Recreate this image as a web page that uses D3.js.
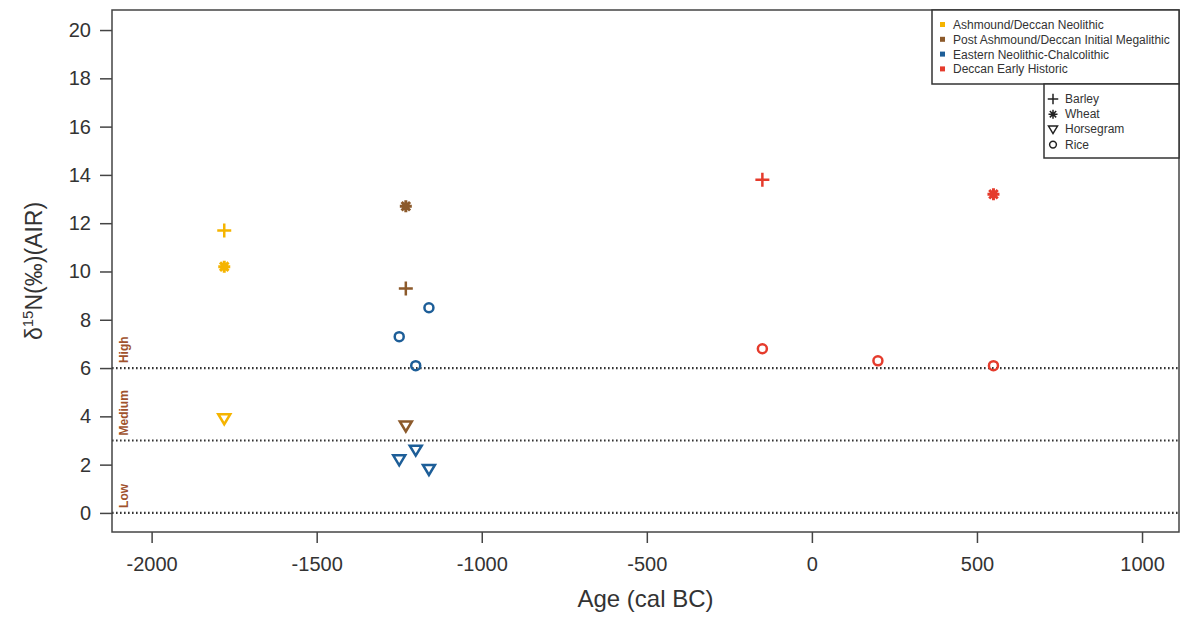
<!DOCTYPE html>
<html>
<head>
<meta charset="utf-8">
<script src="https://cdn.jsdelivr.net/npm/d3@7"></script>
<style>
  body { margin: 0; background: #fff; }
  svg { font-family: "Liberation Sans", Arial, sans-serif; }
</style>
</head>
<body>
<div id="chart"><svg></svg></div>
<script>
// Groups (colour legend)
const groups = ["Ashmound/Deccan Neolithic", "Post Ashmound/Deccan Initial Megalithic", "Eastern Neolithic-Chalcolithic", "Deccan Early Historic"];
const groupColors = ["#f5b400", "#8c5a2b", "#1d5e98", "#e53b2c"];

// Crops (shape legend)
const crops = ["Barley", "Wheat", "Horsegram", "Rice"];

// Points: age (cal BC), d15N, crop
const ashmound = [
    { age: -1780, n: 11.7, crop: "Barley" },
    { age: -1780, n: 10.2, crop: "Wheat" },
    { age: -1780, n: 3.9, crop: "Horsegram" },
];
const postAshmound = [
    { age: -1230, n: 12.7, crop: "Wheat" },
    { age: -1230, n: 9.3, crop: "Barley" },
    { age: -1230, n: 3.6, crop: "Horsegram" },
];
const eastern = [
    { age: -1250, n: 7.3, crop: "Rice" },
    { age: -1200, n: 6.1, crop: "Rice" },
    { age: -1160, n: 8.5, crop: "Rice" },
    { age: -1250, n: 2.2, crop: "Horsegram" },
    { age: -1200, n: 2.6, crop: "Horsegram" },
    { age: -1160, n: 1.8, crop: "Horsegram" },
];
const earlyHistoric = [
    { age: -150, n: 13.8, crop: "Barley" },
    { age: -150, n: 6.8, crop: "Rice" },
    { age: 200, n: 6.3, crop: "Rice" },
    { age: 550, n: 13.2, crop: "Wheat" },
    { age: 550, n: 6.1, crop: "Rice" },
];

const xTicks = [-2000, -1500, -1000, -500, 0, 500, 1000];
const yTicks = [0, 2, 4, 6, 8, 10, 12, 14, 16, 18, 20];
const levels = [
    { value: 0, label: "Low" },
    { value: 3, label: "Medium" },
    { value: 6, label: "High" },
];

const points = [ashmound, postAshmound, eastern, earlyHistoric]
    .flatMap((arr, gi) => arr.map(d => ({ ...d, group: gi })));

const W = 1182, H = 617;
const margin = { top: 10, right: 3, bottom: 85, left: 112 };
const width = W - margin.left - margin.right;
const height = H - margin.top - margin.bottom;

const svgRoot = d3.select("#chart svg").attr("width", W).attr("height", H);
const svg = svgRoot.append("g").attr("transform", `translate(${margin.left},${margin.top})`);

const x = d3.scaleLinear().domain([-2120, 1112]).range([0, width]);
const y = d3.scaleLinear().domain([-0.79, 20.83]).range([height, 0]);

// Shape paths (local units, stroked)
function markerPath(crop) {
    if (crop === "Barley") return "M-7,0H7M0,-7V7";
    if (crop === "Wheat") {
        const r = 6, s = r * Math.SQRT1_2;
        return `M${-r},0H${r}M0,${-r}V${r}M${-s},${-s}L${s},${s}M${-s},${s}L${s},${-s}`;
    }
    if (crop === "Horsegram") return "M-6,-4.5L6,-4.5L0,5.5Z";
    const c = d3.path(); c.arc(0, 0, 4.5, 0, 2 * Math.PI); return c.toString();
}

// Reference dotted lines
svg.selectAll(".level")
    .data(levels)
    .enter().append("line")
    .attr("x1", 0).attr("x2", width)
    .attr("y1", d => y(d.value)).attr("y2", d => y(d.value))
    .attr("stroke", "#333").attr("stroke-width", 2.2)
    .attr("stroke-dasharray", "1.6,2.4");

svg.selectAll(".levelLabel")
    .data(levels)
    .enter().append("text")
    .attr("transform", d => `translate(16,${y(d.value) - 5}) rotate(-90)`)
    .attr("font-size", 12).attr("font-weight", "bold")
    .attr("fill", "#a0522d")
    .text(d => d.label);

// Points
svg.selectAll(".pt")
    .data(points)
    .enter().append("path")
    .attr("transform", d => `translate(${x(d.age)},${y(d.n)})`)
    .attr("d", d => markerPath(d.crop))
    .attr("fill", "none")
    .attr("stroke", d => groupColors[d.group])
    .attr("stroke-width", d => d.crop === "Wheat" ? 3 : 2.5);

// Frame
svg.append("rect")
    .attr("width", width).attr("height", height)
    .attr("fill", "none").attr("stroke", "#444").attr("stroke-width", 1.5);

// X axis
const xAxis = svg.append("g")
    .attr("transform", `translate(0,${height})`)
    .call(d3.axisBottom(x).tickValues(xTicks).tickSize(11).tickPadding(14).tickFormat(d3.format("d")));
xAxis.select(".domain").remove();
xAxis.selectAll("line").attr("stroke", "#444").attr("stroke-width", 1.5);
xAxis.selectAll("text").attr("font-size", 20).attr("fill", "#333")
    .style("font-family", "Liberation Sans, Arial, sans-serif");
xAxis.selectAll("text").text(d => d < 0 ? "-" + Math.abs(d) : d);

// Y axis
const yAxis = svg.append("g")
    .call(d3.axisLeft(y).tickValues(yTicks).tickSize(12).tickPadding(9));
yAxis.select(".domain").remove();
yAxis.selectAll("line").attr("stroke", "#444").attr("stroke-width", 1.5);
yAxis.selectAll("text").attr("font-size", 20).attr("fill", "#333")
    .style("font-family", "Liberation Sans, Arial, sans-serif");

// Axis titles
svgRoot.append("text")
    .attr("x", margin.left + width / 2).attr("y", 607)
    .attr("text-anchor", "middle").attr("font-size", 24).attr("fill", "#333")
    .text("Age (cal BC)");

const yt = svgRoot.append("text")
    .attr("transform", `translate(42,${margin.top + height / 2}) rotate(-90)`)
    .attr("text-anchor", "middle").attr("font-size", 23).attr("fill", "#333");
yt.append("tspan").text("δ");
yt.append("tspan").attr("font-size", 15).attr("dy", -9).text("15");
yt.append("tspan").attr("dy", 9).text("N(‰)(AIR)");

// Legend 1: groups
const lg1 = svgRoot.append("g").attr("transform", "translate(932,10)");
lg1.append("rect").attr("width", 247).attr("height", 74)
    .attr("fill", "#fff").attr("stroke", "#333").attr("stroke-width", 1.5);
const g1 = lg1.selectAll(".e").data(groups).enter().append("g")
    .attr("transform", (d, i) => `translate(0,${15 + i * 14.8})`);
g1.append("rect").attr("x", 8).attr("y", -3).attr("width", 5).attr("height", 5)
    .attr("fill", (d, i) => groupColors[i]);
g1.append("text").attr("x", 21).attr("y", 4).attr("font-size", 12).attr("fill", "#333").text(d => d);

// Legend 2: crops
const lg2 = svgRoot.append("g").attr("transform", "translate(1044,84)");
lg2.append("rect").attr("width", 135).attr("height", 74)
    .attr("fill", "#fff").attr("stroke", "#333").attr("stroke-width", 1.5);
const g2 = lg2.selectAll(".e").data(crops).enter().append("g")
    .attr("transform", (d, i) => `translate(9,${15 + i * 15.2})`);
g2.append("path")
    .attr("d", d => markerPath(d))
    .attr("transform", "scale(0.75)")
    .attr("fill", "none").attr("stroke", "#222").attr("stroke-width", 2);
g2.append("text").attr("x", 12).attr("y", 4).attr("font-size", 12).attr("fill", "#333").text(d => d);
</script>
</body>
</html>
